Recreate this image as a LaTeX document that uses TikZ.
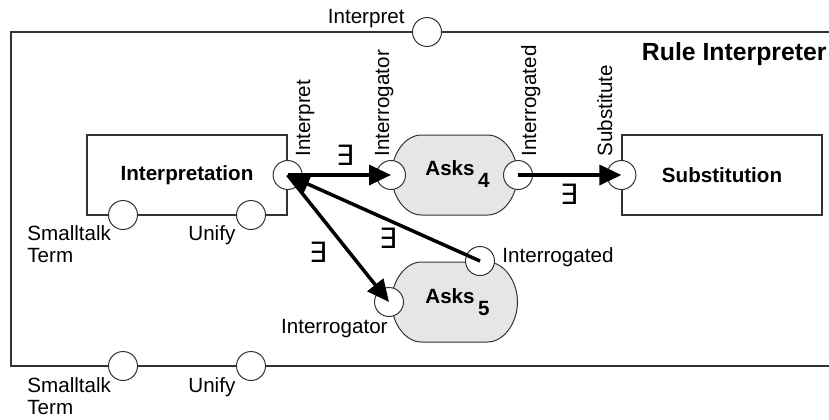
\documentclass[tikz,border=0pt]{standalone}
\usepackage{fontspec}
\setmainfont{Liberation Sans}
\newfontfamily\symbfont{DejaVu Sans}
\usetikzlibrary{arrows.meta, positioning}

\definecolor{linegray}{HTML}{333333}
\definecolor{blobgray}{HTML}{E6E6E8}

\newcommand{\lblsize}{\fontsize{10.3}{11}\selectfont}

\tikzset{
  port/.style={circle, draw=linegray, fill=white, line width=0.5pt,
    minimum size=14.5pt, inner sep=0pt},
  unit/.style={draw=linegray, line width=0.6pt, minimum width=100pt,
    minimum height=40pt, font=\lblsize\bfseries},
  lbl/.style={inner sep=0pt, font=\lblsize},
  vlbl/.style={inner sep=0pt, font=\lblsize, rotate=90, anchor=base west},
  flow/.style={line width=1.75pt, -{Triangle[length=11pt, width=10pt]}},
  exists/.style={inner sep=0pt, font=\symbfont\fontsize{14}{14}\selectfont},
}

% grauer Baustein (Asks)
\newcommand{\asksblob}[1]{%
  \path[draw=linegray, fill=blobgray, line width=0.5pt, shift={#1}]
    (-33,-40) -- (33,-40) .. controls (50,-40) and (63,-20) .. (63,0)
    .. controls (63,20) and (50,40) .. (33,40) -- (-33,40)
    .. controls (-50,40) and (-63,20) .. (-63,0)
    .. controls (-63,-20) and (-50,-40) .. (-33,-40) -- cycle;}

\begin{document}
\begin{tikzpicture}[x=0.5pt, y=-0.5pt]
\useasboundingbox (0,0) rectangle (829,419);

% Rahmen Rule Interpreter
\draw[linegray, line width=0.6pt] (829,32) -- (11,32) -- (11,366) -- (829,366);
\node[inner sep=0pt, font=\fontsize{12.4}{14}\selectfont\bfseries, anchor=base east]
  (title) at (827,60) {Rule Interpreter};

% Ports am Rahmen
\node[port] (rInterpret) at (427,32) {};
\node[port] (rSmalltalk) at (123,366) {};
\node[port] (rUnify) at (251,366) {};
\node[lbl, anchor=base east] (rInterpretL) at (405,23) {Interpret};
\node[lbl, anchor=north west, align=left] (rSmalltalkL) at (27,377) {Smalltalk\\Term};
\node[lbl, anchor=base west] (rUnifyL) at (188,392) {Unify};

% Interpretation
\node[unit] (interpretation) at (187,175) {Interpretation};
\node[port] (iInterpret) at (interpretation.east) {};
\node[port] (iSmalltalk) at (123,215) {};
\node[port] (iUnify) at (251,215) {};
\node[vlbl] (iInterpretL) at (310,157) {Interpret};
\node[lbl, anchor=north west, align=left] (iSmalltalkL) at (27,225) {Smalltalk\\Term};
\node[lbl, anchor=base west] (iUnifyL) at (188,240) {Unify};

% Substitution
\node[unit] (substitution) at (722,175) {Substitution};
\node[port] (sSubstitute) at (substitution.west) {};
\node[vlbl] (sSubstituteL) at (612,157) {Substitute};

% Asks 4
\asksblob{(454.5,175)}
\node[port] (aInterrogator) at (391,175) {};
\node[port] (aInterrogated) at (518,175) {};
\node[lbl, anchor=base west, font=\lblsize\bfseries] (asksfour) at (425,175)
  {Asks\,\raisebox{-0.62em}{4}};
\node[vlbl] (aInterrogatorL) at (389,157) {Interrogator};
\node[vlbl] (aInterrogatedL) at (536,157) {Interrogated};

% Asks 5
\asksblob{(454.5,302)}
\node[port] (bInterrogator) at (389,302) {};
\node[port] (bInterrogated) at (480,261) {};
\node[lbl, anchor=base west, font=\lblsize\bfseries] (asksfive) at (425,303)
  {Asks\,\raisebox{-0.62em}{5}};
\node[lbl, anchor=base east] (bInterrogatorL) at (388,333) {Interrogator};
\node[lbl, anchor=base west] (bInterrogatedL) at (502,262) {Interrogated};

% Verbindungen
\draw[flow] (iInterpret.center) -- (aInterrogator.center);
\draw[flow] (aInterrogated.center) -- (sSubstitute.center);
\draw[flow] (iInterpret.center) -- (bInterrogator.center);
\draw[flow] (bInterrogated.center) -- (iInterpret.center);

% Quantoren
\node[exists] (e1) at (345,155) {∃};
\node[exists] (e2) at (569,194) {∃};
\node[exists] (e3) at (318,252) {∃};
\node[exists] (e4) at (388,238) {∃};

\end{tikzpicture}
\end{document}
